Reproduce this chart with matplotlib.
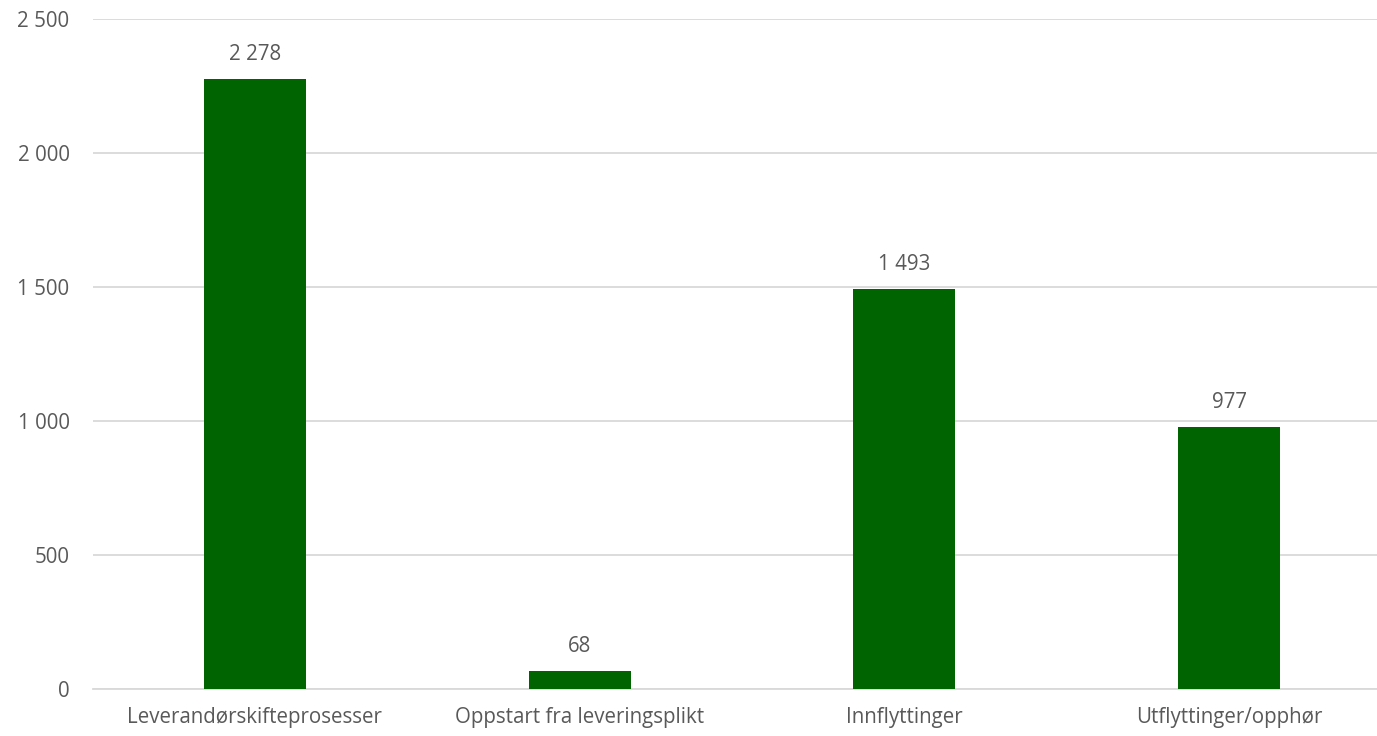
import matplotlib
matplotlib.use("Agg")
import matplotlib.pyplot as plt
from matplotlib.ticker import FuncFormatter

categories = ["Leverandørskifteprosesser", "Oppstart fra leveringsplikt",
              "Innflyttinger", "Utflyttinger/opphør"]
values = [2278, 68, 1493, 977]
yticks = [0, 500, 1000, 1500, 2000, 2500]

plt.rcParams['font.family'] = ['Open Sans', 'DejaVu Sans']
text_color = "#595959"
fsize = 14.8

def fmt(v, _=None):
    return f"{int(v):,}".replace(",", " ")

fig = plt.figure(figsize=(13.77, 7.36), dpi=100)
ax = fig.add_axes([0.0672, 0.0639, 0.9434, 0.9101])

x = range(len(categories))
ax.bar(x, values, width=0.314, color="#006400", zorder=3)
for xi, v in zip(x, values):
    ax.annotate(fmt(v), (xi, v), xytext=(0, 10), textcoords="offset points",
                ha="center", va="bottom", fontsize=fsize, color=text_color)

ax.set_xlim(-0.5, len(categories) - 0.5)
ax.set_ylim(0, 2500)
ax.set_yticks(yticks)
ax.yaxis.set_major_formatter(FuncFormatter(fmt))
ax.set_xticks(list(x))
ax.set_xticklabels(categories)
ax.grid(axis="y", color="#d9d9d9", linewidth=1.3, zorder=0)
for s in ["top", "right", "left"]:
    ax.spines[s].set_visible(False)
ax.spines["bottom"].set_color("#d9d9d9")
ax.spines["bottom"].set_linewidth(1.3)
ax.tick_params(axis="both", length=0, labelsize=fsize, labelcolor=text_color)
ax.tick_params(axis="y", pad=16.5)
ax.tick_params(axis="x", pad=13)

fig.savefig("out.png", dpi=100, facecolor="white")
